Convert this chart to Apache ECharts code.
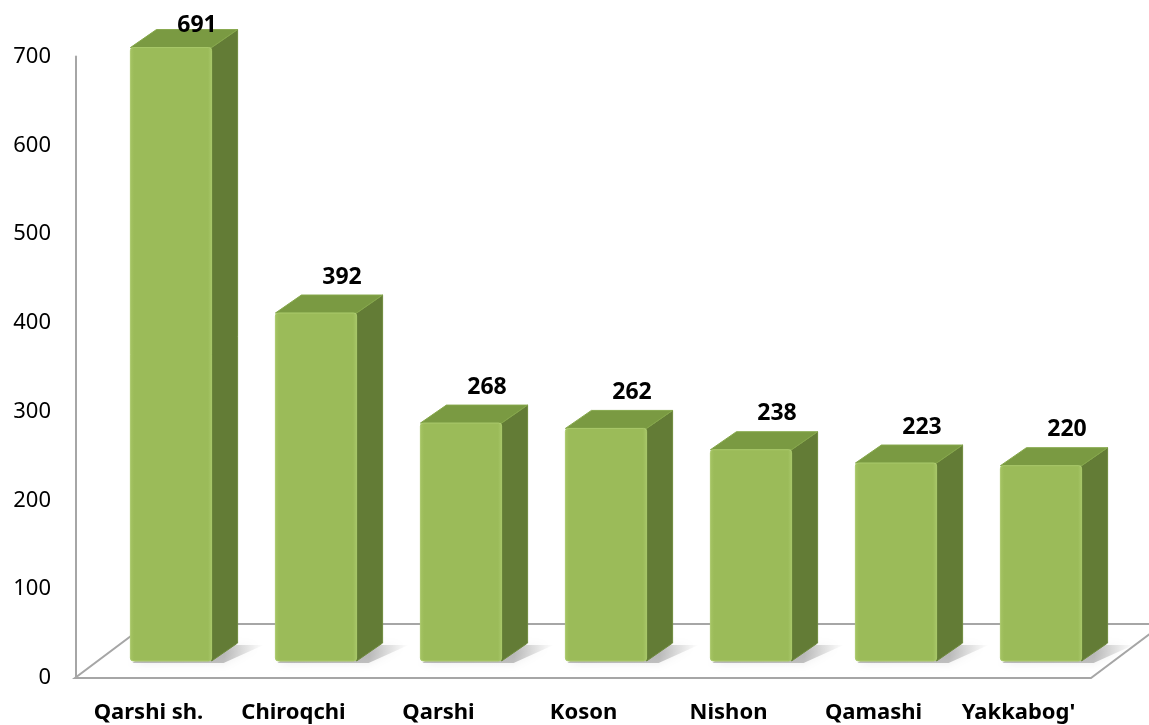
<!DOCTYPE html>
<html>
<head>
<meta charset="utf-8">
<title>Bar chart</title>
<script src="https://cdn.jsdelivr.net/npm/echarts@6/dist/echarts.min.js"></script>
<style>
  html, body { margin: 0; padding: 0; background: #fff; }
  #chart { width: 1149px; height: 725px; }
</style>
</head>
<body>
<div id="chart"></div>
<script>
const categories = ['Qarshi sh.', 'Chiroqchi', 'Qarshi', 'Koson', 'Nishon', 'Qamashi', "Yakkabog'"];
const values = [691, 392, 268, 262, 238, 223, 220];
const yMin = 0;
const yMax = 700;
const yStep = 100;

// fake 3d depth of bars and floor, in pixels
const DEPTH_X = 26;
const DEPTH_Y = -18;
const FLOOR_X = 72;
const FLOOR_Y = -54;

const FRONT = '#9bbb59';
const SIDE = '#637c36';
const TOP = '#7a9a42';

const chart = echarts.init(document.getElementById('chart'));

function renderFloor(params) {
  const cs = params.coordSys;
  const x0 = cs.x - 1;
  const x1 = cs.x + cs.width;
  const y0 = cs.y + cs.height;
  return {
    type: 'polygon',
    shape: {
      points: [[x0, y0], [x1, y0], [x1 + FLOOR_X, y0 + FLOOR_Y], [x0 + FLOOR_X, y0 + FLOOR_Y]]
    },
    style: { fill: '#ffffff', stroke: '#a6a6a6', lineWidth: 2 },
    z2: 0
  };
}

function renderBar(params, api) {
  const idx = api.value(0);
  const val = api.value(1);
  const base = api.coord([idx, 0]);
  const top = api.coord([idx, val]);
  const band = api.size([1, 0])[0];
  const w = band * 0.56;
  const x0 = base[0] - w / 2;
  const x1 = base[0] + w / 2;
  const yb = base[1];
  const yt = top[1];
  const labelY = Math.max(yt + DEPTH_Y - 18, 25);
  return {
    type: 'group',
    children: [
      {
        // soft shadow on the floor
        type: 'polygon',
        shape: {
          points: [[x0 + 2, yb + 2], [x1 + 12, yb + 2], [x1 + DEPTH_X + 26, yb + DEPTH_Y + 2], [x0 + DEPTH_X, yb + DEPTH_Y + 2]]
        },
        style: {
          fill: {
            type: 'linear', x: 0, y: 0, x2: 1, y2: 0,
            colorStops: [
              { offset: 0, color: 'rgba(0,0,0,0.25)' },
              { offset: 0.7, color: 'rgba(0,0,0,0.22)' },
              { offset: 1, color: 'rgba(0,0,0,0)' }
            ]
          },
          shadowBlur: 10,
          shadowColor: 'rgba(0,0,0,0.35)'
        }
      },
      {
        type: 'polygon',
        shape: { points: [[x1, yt], [x1 + DEPTH_X, yt + DEPTH_Y], [x1 + DEPTH_X, yb + DEPTH_Y], [x1, yb]] },
        style: { fill: SIDE, stroke: '#6f8a3d', lineWidth: 1 }
      },
      {
        type: 'polygon',
        shape: { points: [[x0, yt], [x1, yt], [x1 + DEPTH_X, yt + DEPTH_Y], [x0 + DEPTH_X, yt + DEPTH_Y]] },
        style: { fill: TOP, stroke: '#86a84b', lineWidth: 1 }
      },
      {
        type: 'rect',
        shape: { x: x0, y: yt, width: w, height: yb - yt, r: 3 },
        style: {
          fill: {
            type: 'linear', x: 0, y: 0, x2: 1, y2: 0,
            colorStops: [
              { offset: 0, color: '#a6c565' },
              { offset: 0.05, color: FRONT },
              { offset: 0.95, color: FRONT },
              { offset: 1, color: '#a9c86a' }
            ]
          },
          stroke: '#aac96b',
          lineWidth: 1
        }
      },
      {
        type: 'text',
        style: {
          text: String(val),
          x: base[0] + DEPTH_X,
          y: labelY,
          align: 'center',
          verticalAlign: 'middle',
          fill: '#000',
          font: 'bold 23px "Noto Sans", sans-serif'
        }
      }
    ]
  };
}

const option = {
  animation: false,
  grid: [
    { left: 76, top: 56.6, width: 1015, height: 621.4 },
    { left: 98.5, top: 39.6, width: 1015, height: 621.4 }
  ],
  xAxis: [
    {
      type: 'category',
      gridIndex: 0,
      data: categories,
      axisLine: { show: false },
      axisTick: { show: false },
      axisLabel: {
        interval: 0,
        margin: 24,
        color: '#000',
        fontWeight: 'bold',
        fontSize: 22,
        fontFamily: 'Noto Sans'
      }
    },
    {
      type: 'category',
      gridIndex: 1,
      data: categories,
      show: false
    }
  ],
  yAxis: [
    {
      type: 'value',
      gridIndex: 0,
      min: yMin,
      max: yMax,
      interval: yStep,
      axisLine: { show: true, lineStyle: { color: '#a6a6a6', width: 2 } },
      axisTick: { show: false },
      splitLine: { show: false },
      axisLabel: {
        margin: 25,
        color: '#000',
        fontSize: 22,
        fontFamily: 'Noto Sans'
      }
    },
    {
      type: 'value',
      gridIndex: 1,
      min: yMin,
      max: yMax,
      interval: yStep,
      show: false
    }
  ],
  series: [
    {
      type: 'custom',
      xAxisIndex: 0,
      yAxisIndex: 0,
      renderItem: renderFloor,
      data: [[0, 0]],
      silent: true,
      z: 1
    },
    {
      type: 'custom',
      xAxisIndex: 1,
      yAxisIndex: 1,
      renderItem: renderBar,
      data: values.map((v, i) => [i, v]),
      z: 2
    }
  ]
};

chart.setOption(option);
</script>
</body>
</html>
